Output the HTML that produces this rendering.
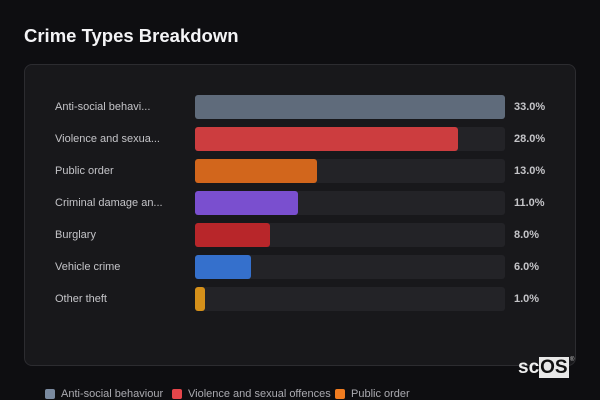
<!DOCTYPE html>
<html><head><style>
body{margin:0;width:600px;height:400px;background:#0e0e11;font-family:"Liberation Sans",sans-serif;position:relative;overflow:hidden}
.t{position:absolute;left:24px;top:25px;font-size:18.5px;font-weight:bold;color:#f4f4f6}
.card{position:absolute;left:24px;top:64px;width:550px;height:300px;background:#18181b;border:1px solid #2c2c30;border-radius:8px}
.row{position:absolute;left:0;height:24px;width:600px}
.lab{position:absolute;left:55px;top:6px;font-size:11px;color:#c4c4c8}
.tr{position:absolute;left:195px;top:0;width:310px;height:24px;background:#232327;border-radius:3px}
.b{position:absolute;left:0;top:0;height:24px;border-radius:3px}
.v{position:absolute;left:514px;top:6px;font-size:11px;font-weight:bold;color:#c4c4c8}
.lg{position:absolute;top:388px;font-size:11px;color:#aaaab0}
.sw{position:absolute;top:389px;width:10px;height:10px;border-radius:2px}
</style></head><body>
<div class="t">Crime Types Breakdown</div>
<div class="card"></div>
<div class="row" style="top:95px"><div class="lab">Anti-social behavi...</div><div class="tr"><div class="b" style="width:310px;background:#5f6b7b"></div></div><div class="v">33.0%</div></div>
<div class="row" style="top:127px"><div class="lab">Violence and sexua...</div><div class="tr"><div class="b" style="width:263px;background:#cc3d3f"></div></div><div class="v">28.0%</div></div>
<div class="row" style="top:159px"><div class="lab">Public order</div><div class="tr"><div class="b" style="width:122px;background:#d2661c"></div></div><div class="v">13.0%</div></div>
<div class="row" style="top:191px"><div class="lab">Criminal damage an...</div><div class="tr"><div class="b" style="width:103px;background:#7a4fcf"></div></div><div class="v">11.0%</div></div>
<div class="row" style="top:223px"><div class="lab">Burglary</div><div class="tr"><div class="b" style="width:75px;background:#b8262a"></div></div><div class="v">8.0%</div></div>
<div class="row" style="top:255px"><div class="lab">Vehicle crime</div><div class="tr"><div class="b" style="width:56px;background:#3570cc"></div></div><div class="v">6.0%</div></div>
<div class="row" style="top:287px"><div class="lab">Other theft</div><div class="tr"><div class="b" style="width:10px;background:#d5901a"></div></div><div class="v">1.0%</div></div>
<div class="sw" style="left:45px;background:#7a8aa0"></div><div class="lg" style="left:61px">Anti-social behaviour</div>
<div class="sw" style="left:172px;background:#e5454a"></div><div class="lg" style="left:188px">Violence and sexual offences</div>
<div class="sw" style="left:335px;background:#f07c20"></div><div class="lg" style="left:351px">Public order</div>
<div style="position:absolute;left:518px;top:358px;font-size:19px;font-weight:bold;color:#eee;line-height:20px">sc<span style="background:#e8e8e8;color:#111;padding:0 1px">OS</span></div>
<div style="position:absolute;left:570px;top:357px;font-size:6px;color:#ccc">®</div>
</body></html>
